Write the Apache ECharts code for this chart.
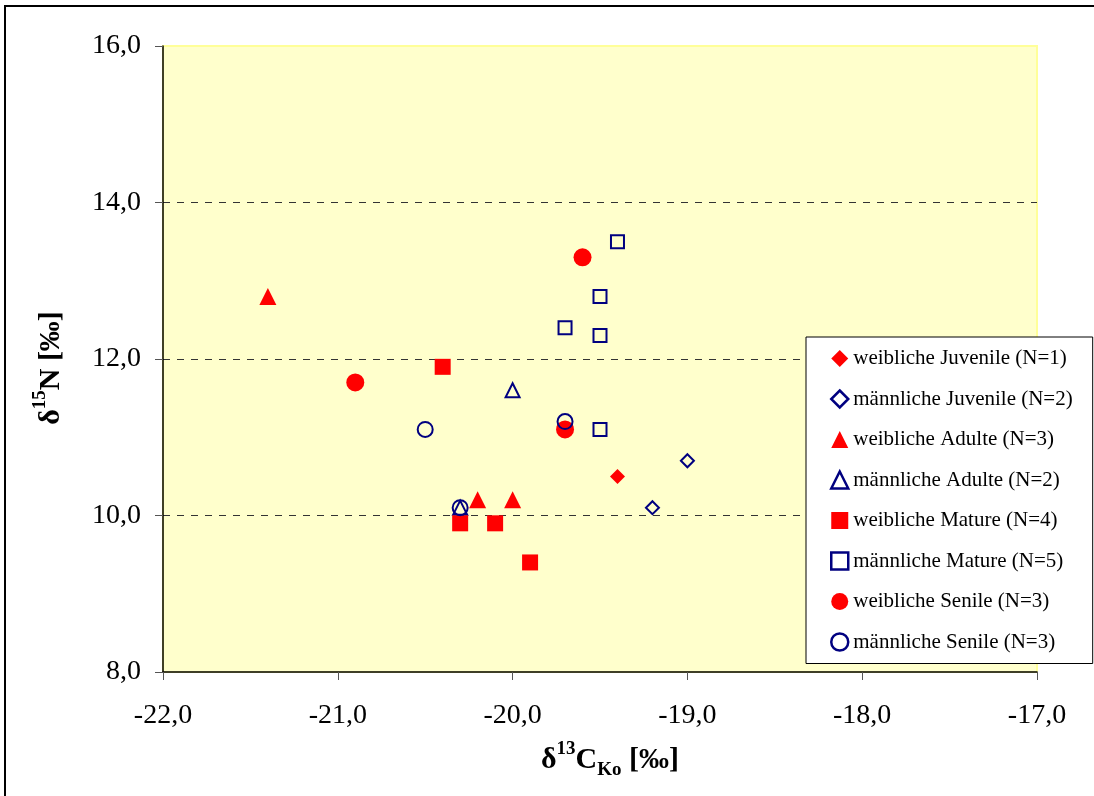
<!DOCTYPE html>
<html>
<head>
<meta charset="UTF-8" />
<script src="https://cdn.jsdelivr.net/npm/echarts@6/dist/echarts.min.js"></script>
<style>
  html, body { margin: 0; padding: 0; background: #fff; }
  #main { width: 1094px; height: 796px; }
</style>
</head>
<body>
<div id="main"></div>
<script>
// d13C (x), d15N (y) per group
const weiblicheJuvenile = [[-19.4, 10.5]];
const maennlicheJuvenile = [[-19.2, 10.1], [-19.0, 10.7]];
const weiblicheAdulte = [[-21.4, 12.8], [-20.2, 10.2], [-20.0, 10.2]];
const maennlicheAdulte = [[-20.0, 11.6], [-20.3, 10.1]];
const weiblicheMature = [[-20.4, 11.9], [-20.3, 9.9], [-20.1, 9.9], [-19.9, 9.4]];
const maennlicheMature = [[-19.4, 13.5], [-19.5, 12.8], [-19.7, 12.4], [-19.5, 12.3], [-19.5, 11.1]];
const weiblicheSenile = [[-19.6, 13.3], [-20.9, 11.7], [-19.7, 11.1]];
const maennlicheSenile = [[-20.5, 11.1], [-19.7, 11.2], [-20.3, 10.1]];

const xRange = [-22, -17];
const yRange = [8, 16];

const RED = '#FF0000';
const NAVY = '#000080';
const FONT = '"Liberation Serif", "Times New Roman", serif';

function filled(name, data, symbol, size) {
  return {
    name, type: 'scatter', data, symbol, symbolSize: size,
    itemStyle: { color: RED, opacity: 1 }
  };
}
function hollow(name, data, symbol, size) {
  return {
    name, type: 'scatter', data, symbol, symbolSize: size,
    itemStyle: { color: 'rgba(0,0,0,0)', borderColor: NAVY, borderWidth: 2, opacity: 1 }
  };
}

const series = [
  filled('weibliche Juvenile (N=1)', weiblicheJuvenile, 'diamond', 15),
  hollow('männliche Juvenile (N=2)', maennlicheJuvenile, 'diamond', 13),
  filled('weibliche Adulte (N=3)', weiblicheAdulte, 'triangle', 17),
  hollow('männliche Adulte (N=2)', maennlicheAdulte, 'triangle', 14),
  filled('weibliche Mature (N=4)', weiblicheMature, 'rect', 16),
  hollow('männliche Mature (N=5)', maennlicheMature, 'rect', 13),
  filled('weibliche Senile (N=3)', weiblicheSenile, 'circle', 18),
  hollow('männliche Senile (N=3)', maennlicheSenile, 'circle', 15)
];

// legend icons: filled ones plain red, hollow ones with a thicker navy outline
const legendData = series.map(s => ({
  name: s.name,
  itemStyle: s.itemStyle.borderColor
    ? { color: 'rgba(0,0,0,0)', borderColor: NAVY, borderWidth: 2.5 }
    : { color: RED, borderWidth: 0 }
}));

const fmt = v => v.toFixed(1).replace('.', ',');

const chart = echarts.init(document.getElementById('main'));
chart.setOption({
  animation: false,
  backgroundColor: '#fff',
  textStyle: { fontFamily: FONT },
  graphic: [{
    type: 'rect', z: 100, silent: true,
    shape: { x: 5, y: 6, width: 1200, height: 900 },
    style: { fill: 'none', stroke: '#000', lineWidth: 2 }
  }],
  grid: {
    left: 163, right: 57, top: 46, bottom: 124,
    show: true, backgroundColor: '#FFFFCC', borderColor: '#FFFF99', borderWidth: 2
  },
  legend: {
    data: legendData,
    orient: 'vertical', left: 806, top: 337,
    padding: [11, 20, 11, 24], itemGap: 19.5,
    itemWidth: 17, itemHeight: 17,
    backgroundColor: '#fff', borderColor: '#000', borderWidth: 1,
    textStyle: { fontFamily: FONT, fontSize: 21, color: '#000' }
  },
  xAxis: {
    type: 'value', min: xRange[0], max: xRange[1], interval: 1,
    axisLine: { lineStyle: { color: '#000', width: 1.5 } },
    axisTick: { show: true, length: 8, lineStyle: { color: '#555' } },
    axisLabel: { formatter: fmt, fontFamily: FONT, fontSize: 28, color: '#000', margin: 30 },
    splitLine: { show: false },
    name: '{d|δ}{s|13}{d|C}{b|Ko}{d| [‰]}',
    nameLocation: 'middle', nameGap: 68,
    nameTextStyle: {
      padding: [0, 0, 0, 20],
      rich: {
        d: { fontFamily: FONT, fontSize: 30, fontWeight: 'bold', color: '#000', lineHeight: 40, verticalAlign: 'middle' },
        s: { fontFamily: FONT, fontSize: 19, fontWeight: 'bold', color: '#000', verticalAlign: 'top' },
        b: { fontFamily: FONT, fontSize: 19, fontWeight: 'bold', color: '#000', verticalAlign: 'bottom' }
      }
    }
  },
  yAxis: {
    type: 'value', min: yRange[0], max: yRange[1], interval: 2,
    axisLine: { show: true, lineStyle: { color: '#000', width: 1.5 } },
    axisTick: { show: true, length: 8, lineStyle: { color: '#555' } },
    axisLabel: { formatter: fmt, fontFamily: FONT, fontSize: 28, color: '#000', margin: 22 },
    splitLine: {
      show: true, showMinLine: false, showMaxLine: false,
      lineStyle: { color: '#333', type: [7, 7], width: 1 }
    },
    name: '{d|δ}{s|15}{d|N [‰]}',
    nameLocation: 'middle', nameRotate: 90, nameGap: 92,
    nameTextStyle: {
      padding: [0, 18, 0, 0],
      rich: {
        d: { fontFamily: FONT, fontSize: 30, fontWeight: 'bold', color: '#000', lineHeight: 40, verticalAlign: 'middle' },
        s: { fontFamily: FONT, fontSize: 19, fontWeight: 'bold', color: '#000', verticalAlign: 'top' }
      }
    }
  },
  series
});
</script>
</body>
</html>
